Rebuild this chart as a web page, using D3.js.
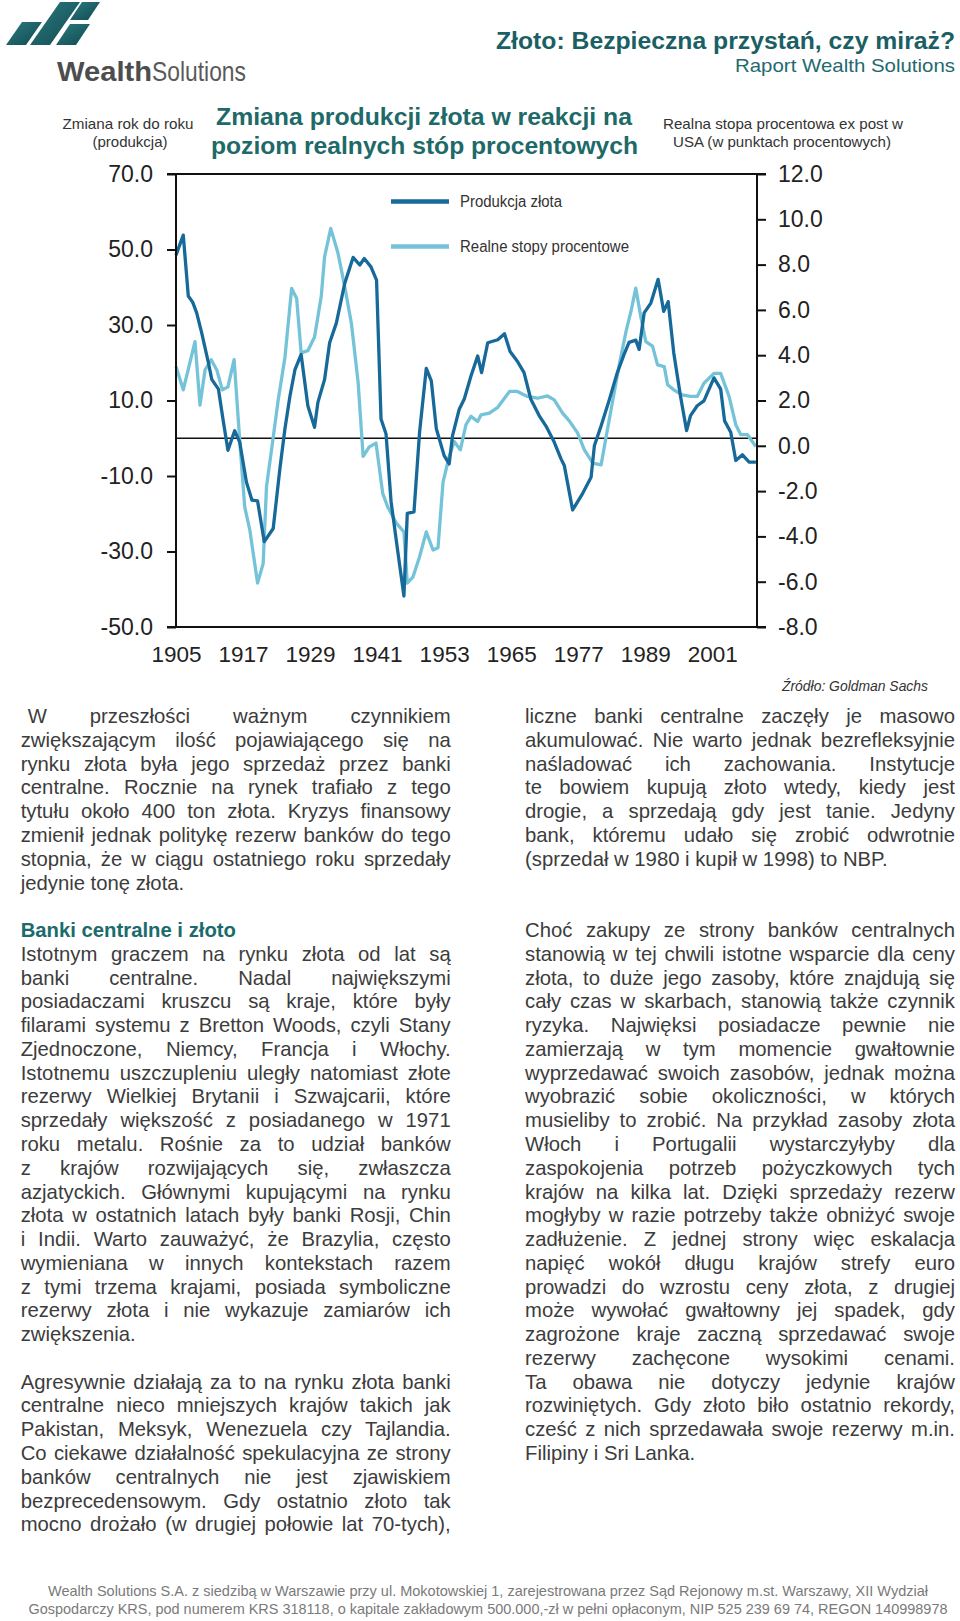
<!DOCTYPE html>
<html>
<head>
<meta charset="utf-8">
<script src="https://cdn.jsdelivr.net/npm/d3@7"></script>
<style>
  html, body { margin: 0; padding: 0; background: #fff; }
  #page { position: relative; width: 960px; height: 1621px; overflow: hidden; font-family: "Liberation Sans", Arial, sans-serif; }
  #page svg { position: absolute; left: 0; top: 0; }
  .line { position: absolute; white-space: nowrap; font-size: 20.3px; color: #3c3c3c; text-align: justify; text-align-last: justify; }
  .line.last { text-align: left; text-align-last: left; }
  .line.head { color: #1b6b6c; font-weight: bold; text-align: left; text-align-last: left; }
</style>
</head>
<body>
<div id="page"></div>
<script>
// ---------------- DATA ----------------
const prodYears = [1905.0,1906.3,1907.2,1908.0,1908.7,1909.6,1910.8,1911.4,1912.6,1913.5,1914.3,1915.5,1916.4,1917.6,1918.6,1919.6,1920.8,1922.4,1923.6,1924.5,1925.4,1926.3,1927.4,1928.6,1929.8,1930.4,1931.6,1932.5,1933.7,1935.2,1936.7,1937.9,1938.7,1939.9,1940.9,1941.7,1942.6,1943.5,1944.7,1945.8,1946.4,1947.6,1948.6,1949.8,1950.7,1951.6,1953.0,1953.9,1954.5,1955.7,1956.6,1957.8,1959.0,1959.7,1960.8,1962.6,1963.8,1964.8,1966.1,1967.3,1968.5,1970.0,1971.2,1972.7,1973.9,1974.5,1976.0,1977.8,1979.3,1979.9,1981.1,1982.5,1984.0,1985.2,1986.1,1987.3,1987.9,1988.8,1990.0,1991.3,1992.3,1993.1,1994.1,1995.3,1996.4,1997.1,1998.3,1999.5,2001.3,2002.5,2003.2,2004.3,2005.2,2006.4,2007.6,2008.8];
const prodValues = [48.5,53.8,37.7,36.0,33.2,27.9,20.0,15.6,13.0,4.2,-3.2,2.0,-1.0,-11.6,-16.4,-16.6,-27.4,-23.9,-8.0,2.5,11.2,18.2,22.2,8.6,2.9,9.5,15.6,25.3,30.5,41.0,47.9,45.9,47.6,45.4,41.9,5.1,1.1,-16.8,-30.0,-41.8,-19.9,-19.5,1.6,18.5,15.2,2.5,-4.6,-6.8,0.7,7.7,10.4,16.5,21.8,17.4,25.3,26.1,27.7,23.0,20.4,17.4,10.4,6.0,3.3,-1.0,-5.4,-7.2,-19.0,-14.6,-10.3,-1.9,3.3,9.9,17.4,22.2,25.4,26.0,23.5,33.2,35.8,42.1,33.6,36.2,22.6,11.2,2.0,6.0,8.6,9.9,16.0,13.0,4.6,1.6,-5.9,-4.4,-6.3,-6.3];

const rateYears = [1905.0,1906.3,1908.4,1909.3,1910.2,1911.3,1912.3,1913.3,1914.3,1915.4,1916.4,1917.3,1918.2,1919.6,1920.6,1921.2,1922.1,1923.3,1924.5,1925.7,1926.6,1927.4,1928.6,1929.8,1931.0,1931.6,1932.7,1934.0,1935.2,1936.4,1937.6,1938.5,1939.6,1940.8,1942.0,1942.9,1944.4,1945.8,1946.4,1947.4,1948.6,1949.8,1951.0,1951.9,1952.8,1953.9,1954.8,1955.9,1956.9,1957.8,1959.0,1959.6,1961.1,1962.6,1963.8,1964.7,1966.1,1967.9,1969.7,1971.5,1972.7,1974.2,1975.4,1976.9,1978.1,1979.6,1981.1,1982.0,1983.2,1984.4,1985.6,1986.5,1987.3,1988.2,1989.1,1990.3,1991.2,1992.4,1993.0,1994.1,1995.6,1997.1,1998.3,1999.5,2001.3,2002.5,2004.0,2005.2,2006.1,2007.3,2008.8];
const rateValues = [3.5,2.47,4.6,1.8,3.35,3.8,3.35,2.47,2.6,3.8,0.26,-2.7,-3.7,-6.06,-5.2,-1.8,-0.18,2.03,3.9,6.95,6.5,4.1,4.2,4.8,6.6,8.35,9.6,8.5,7.03,5.4,2.8,-0.47,-0.05,0.12,-2.1,-2.7,-3.4,-3.8,-6.06,-5.8,-4.9,-3.8,-4.6,-4.5,-1.6,-0.47,0.19,-0.18,0.93,1.3,1.07,1.37,1.44,1.7,2.1,2.4,2.4,2.18,2.1,2.2,2.03,1.44,1.1,0.56,-0.18,-0.76,-0.84,0.41,2.03,3.65,5.1,6.0,6.96,5.7,4.6,4.4,3.57,3.5,2.7,2.47,2.25,2.18,2.18,2.76,3.2,3.2,2.18,0.93,0.49,0.49,-0.03];

const xTicks = [1905,1917,1929,1941,1953,1965,1977,1989,2001];
const leftTicks = [70,50,30,10,-10,-30,-50];
const rightTicks = [12,10,8,6,4,2,0,-2,-4,-6,-8];
const seriesNames = ["Produkcja złota", "Realne stopy procentowe"];

const leftColumn = [
  {t:"W przeszłości ważnym czynnikiem", indent:true},
  {t:"zwiększającym ilość pojawiającego się na"},
  {t:"rynku złota była jego sprzedaż przez banki"},
  {t:"centralne. Rocznie na rynek trafiało z tego"},
  {t:"tytułu około 400 ton złota. Kryzys finansowy"},
  {t:"zmienił jednak politykę rezerw banków do tego"},
  {t:"stopnia, że w ciągu ostatniego roku sprzedały"},
  {t:"jedynie tonę złota.", last:true},
  null,
  {t:"Banki centralne i złoto", head:true},
  {t:"Istotnym graczem na rynku złota od lat są"},
  {t:"banki centralne. Nadal największymi"},
  {t:"posiadaczami kruszcu są kraje, które były"},
  {t:"filarami systemu z Bretton Woods, czyli Stany"},
  {t:"Zjednoczone, Niemcy, Francja i Włochy."},
  {t:"Istotnemu uszczupleniu uległy natomiast złote"},
  {t:"rezerwy Wielkiej Brytanii i Szwajcarii, które"},
  {t:"sprzedały większość z posiadanego w 1971"},
  {t:"roku metalu. Rośnie za to udział banków"},
  {t:"z krajów rozwijających się, zwłaszcza"},
  {t:"azjatyckich. Głównymi kupującymi na rynku"},
  {t:"złota w ostatnich latach były banki Rosji, Chin"},
  {t:"i Indii. Warto zauważyć, że Brazylia, często"},
  {t:"wymieniana w innych kontekstach razem"},
  {t:"z tymi trzema krajami, posiada symboliczne"},
  {t:"rezerwy złota i nie wykazuje zamiarów ich"},
  {t:"zwiększenia.", last:true},
  null,
  {t:"Agresywnie działają za to na rynku złota banki"},
  {t:"centralne nieco mniejszych krajów takich jak"},
  {t:"Pakistan, Meksyk, Wenezuela czy Tajlandia."},
  {t:"Co ciekawe działalność spekulacyjna ze strony"},
  {t:"banków centralnych nie jest zjawiskiem"},
  {t:"bezprecedensowym. Gdy ostatnio złoto tak"},
  {t:"mocno drożało (w drugiej połowie lat 70-tych),"}
];
const rightColumn = [
  {t:"liczne banki centralne zaczęły je masowo"},
  {t:"akumulować. Nie warto jednak bezrefleksyjnie"},
  {t:"naśladować ich zachowania. Instytucje"},
  {t:"te bowiem kupują złoto wtedy, kiedy jest"},
  {t:"drogie, a sprzedają gdy jest tanie. Jedyny"},
  {t:"bank, któremu udało się zrobić odwrotnie"},
  {t:"(sprzedał w 1980 i kupił w 1998) to NBP.", last:true},
  null, null,
  {t:"Choć zakupy ze strony banków centralnych"},
  {t:"stanowią w tej chwili istotne wsparcie dla ceny"},
  {t:"złota, to duże jego zasoby, które znajdują się"},
  {t:"cały czas w skarbach, stanowią także czynnik"},
  {t:"ryzyka. Najwięksi posiadacze pewnie nie"},
  {t:"zamierzają w tym momencie gwałtownie"},
  {t:"wyprzedawać swoich zasobów, jednak można"},
  {t:"wyobrazić sobie okoliczności, w których"},
  {t:"musieliby to zrobić. Na przykład zasoby złota"},
  {t:"Włoch i Portugalii wystarczyłyby dla"},
  {t:"zaspokojenia potrzeb pożyczkowych tych"},
  {t:"krajów na kilka lat. Dzięki sprzedaży rezerw"},
  {t:"mogłyby w razie potrzeby także obniżyć swoje"},
  {t:"zadłużenie. Z jednej strony więc eskalacja"},
  {t:"napięć wokół długu krajów strefy euro"},
  {t:"prowadzi do wzrostu ceny złota, z drugiej"},
  {t:"może wywołać gwałtowny jej spadek, gdy"},
  {t:"zagrożone kraje zaczną sprzedawać swoje"},
  {t:"rezerwy zachęcone wysokimi cenami."},
  {t:"Ta obawa nie dotyczy jedynie krajów"},
  {t:"rozwiniętych. Gdy złoto biło ostatnio rekordy,"},
  {t:"cześć z nich sprzedawała swoje rezerwy m.in."},
  {t:"Filipiny i Sri Lanka.", last:true}
];

// ---------------- LAYOUT ----------------
const W = 960, H = 1621;
const plot = {left: 176, right: 757, top: 174, bottom: 627};
const darkColor = "#17699a", lightColor = "#74c3d8";
const teal = "#1b5f64";

const page = d3.select("#page");
const svg = page.append("svg").attr("width", W).attr("height", H);

// ---- Logo ----
const logoGrad = svg.append("defs").append("linearGradient").attr("id","lg")
  .attr("x1","0").attr("y1","0").attr("x2","1").attr("y2","1");
logoGrad.append("stop").attr("offset","0").attr("stop-color","#2d7b80");
logoGrad.append("stop").attr("offset","1").attr("stop-color","#0f4a50");
const logoShapes = [
  [[6,45],[26,45],[42,22],[22,22]],
  [[30,45],[50,45],[80,2],[60,2]],
  [[70,20],[88,20],[100,2],[82,2]],
  [[56,45],[76,45],[90,24],[70,24]]
];
svg.append("g").selectAll("path").data(logoShapes).join("path")
  .attr("d", d => d3.line()(d) + "Z")
  .attr("fill", "url(#lg)");

const brand = svg.append("text").attr("x", 57).attr("y", 81)
  .attr("font-family", "Liberation Sans, Arial, sans-serif").attr("font-size", 28).attr("fill", "#4d4d4d");
brand.append("tspan").attr("font-weight", "bold").text("Wealth").attr("textLength", 95).attr("lengthAdjust","spacingAndGlyphs");
brand.append("tspan").attr("font-weight", "normal").attr("fill","#5a5a5a").text("Solutions").attr("textLength", 94).attr("lengthAdjust","spacingAndGlyphs");

// ---- Header titles ----
function label(x, y, txt, opts) {
  const t = svg.append("text").attr("x", x).attr("y", y).text(txt)
    .attr("font-family", opts.family || "Liberation Sans, Arial, sans-serif")
    .attr("font-size", opts.size).attr("fill", opts.fill || "#333")
    .attr("text-anchor", opts.anchor || "start");
  if (opts.weight) t.attr("font-weight", opts.weight);
  if (opts.style) t.attr("font-style", opts.style);
  if (opts.len) t.attr("textLength", opts.len).attr("lengthAdjust", "spacingAndGlyphs");
  return t;
}
label(955, 49, "Złoto: Bezpieczna przystań, czy miraż?", {size: 23, weight: "bold", fill: teal, anchor: "end", len: 459});
label(955, 72, "Raport Wealth Solutions", {size: 19, fill: "#1f6a6f", anchor: "end", len: 220});

label(424, 125, "Zmiana produkcji złota w reakcji na", {size: 23, weight: "bold", fill: "#1d6a69", anchor: "middle", len: 416});
label(424.5, 154, "poziom realnych stóp procentowych", {size: 23, weight: "bold", fill: "#1d6a69", anchor: "middle", len: 427});

label(128, 129, "Zmiana rok do roku", {size: 15, fill: "#333", anchor: "middle", len: 131});
label(130, 146.5, "(produkcja)", {size: 15, fill: "#333", anchor: "middle", len: 75});
label(783, 129, "Realna stopa procentowa ex post w", {size: 15, fill: "#333", anchor: "middle", len: 240});
label(782, 146.5, "USA (w punktach procentowych)", {size: 15, fill: "#333", anchor: "middle", len: 218});

// ---- Scales ----
const x = d3.scaleLinear().domain([1905, 2009]).range([plot.left, plot.right]);
const yL = d3.scaleLinear().domain([-50, 70]).range([plot.bottom, plot.top]);
const yR = d3.scaleLinear().domain([-8, 12]).range([plot.bottom, plot.top]);

const chart = svg.append("g");

// zero line
chart.append("line").attr("x1", plot.left).attr("x2", plot.right)
  .attr("y1", yL(0)).attr("y2", yL(0)).attr("stroke", "#111").attr("stroke-width", 1.6);

// series
const prodData = prodYears.map((yr, i) => [yr, prodValues[i]]);
const rateData = rateYears.map((yr, i) => [yr, rateValues[i]]);
chart.append("path").datum(rateData)
  .attr("d", d3.line().x(d => x(d[0])).y(d => yR(d[1])))
  .attr("fill", "none").attr("stroke", lightColor).attr("stroke-width", 3.3).attr("stroke-linejoin", "round");
chart.append("path").datum(prodData)
  .attr("d", d3.line().x(d => x(d[0])).y(d => yL(d[1])))
  .attr("fill", "none").attr("stroke", darkColor).attr("stroke-width", 3.3).attr("stroke-linejoin", "round");

// frame
chart.append("line").attr("x1", plot.left).attr("x2", plot.right).attr("y1", plot.top).attr("y2", plot.top)
  .attr("stroke", "#111").attr("stroke-width", 2);
chart.append("line").attr("x1", plot.left).attr("x2", plot.right).attr("y1", plot.bottom).attr("y2", plot.bottom)
  .attr("stroke", "#111").attr("stroke-width", 2);

const fmt = d => d.toFixed(1);
// left axis
const axL = d3.axisLeft(yL).tickValues(leftTicks).tickSize(9).tickPadding(14).tickFormat(fmt);
const gL = chart.append("g").attr("transform", `translate(${plot.left},0)`).call(axL);
// right axis
const axR = d3.axisRight(yR).tickValues(rightTicks).tickSize(9).tickPadding(12).tickFormat(fmt);
const gR = chart.append("g").attr("transform", `translate(${plot.right},0)`).call(axR);
// bottom labels
const axB = d3.axisBottom(x).tickValues(xTicks).tickSize(0).tickPadding(19).tickFormat(d => String(d));
const gB = chart.append("g").attr("transform", `translate(0,${plot.bottom})`).call(axB);
gB.select(".domain").remove();

[gL, gR, gB].forEach(g => {
  g.selectAll(".domain").attr("stroke", "#111").attr("stroke-width", 2);
  g.selectAll(".tick line").attr("stroke", "#111").attr("stroke-width", 2);
  g.selectAll("text").attr("font-family", "Liberation Sans, Arial, sans-serif").attr("font-size", 23).attr("fill", "#222");
});
gL.selectAll(".domain").attr("d", `M-9,${plot.top}H0V${plot.bottom}H-9`);
gR.selectAll(".domain").attr("d", `M9,${plot.top}H0V${plot.bottom}H9`);
gB.selectAll("text").attr("font-size", 22.5);

// legend
const legend = chart.append("g");
const legItems = [{name: seriesNames[0], color: darkColor, y: 201.5}, {name: seriesNames[1], color: lightColor, y: 246.5}];
legItems.forEach(it => {
  legend.append("line").attr("x1", 391).attr("x2", 449).attr("y1", it.y).attr("y2", it.y)
    .attr("stroke", it.color).attr("stroke-width", 4.5);
});
label(460, 207, seriesNames[0], {size: 16, fill: "#333", len: 102});
label(460, 252, seriesNames[1], {size: 16, fill: "#333", len: 169});

// source
label(928, 691, "Źródło: Goldman Sachs", {size: 15.5, fill: "#333", anchor: "end", style: "italic", len: 146});

// footer
label(488, 1596, "Wealth Solutions S.A. z siedzibą w Warszawie przy ul. Mokotowskiej 1, zarejestrowana przez Sąd Rejonowy m.st. Warszawy, XII Wydział", {size: 14.5, fill: "#7a7a7a", anchor: "middle", len: 880});
label(488, 1614, "Gospodarczy KRS, pod numerem KRS 318118, o kapitale zakładowym 500.000,-zł w pełni opłaconym, NIP 525 239 69 74, REGON 140998978", {size: 14.5, fill: "#7a7a7a", anchor: "middle", len: 919});

// ---- Body text columns ----
const lineH = 23.77, firstCenter = 717;
function column(lines, left, width) {
  lines.forEach((ln, i) => {
    if (!ln) return;
    const cls = "line" + (ln.last ? " last" : "") + (ln.head ? " head" : "");
    page.append("div").attr("class", cls)
      .style("left", (left + (ln.indent ? 7 : 0)) + "px")
      .style("width", (width - (ln.indent ? 7 : 0)) + "px")
      .style("top", (firstCenter + i * lineH - lineH / 2) + "px")
      .style("height", lineH + "px").style("line-height", lineH + "px")
      .text(ln.t);
  });
}
column(leftColumn, 20.7, 430);
column(rightColumn, 525, 430);
</script>
</body>
</html>
